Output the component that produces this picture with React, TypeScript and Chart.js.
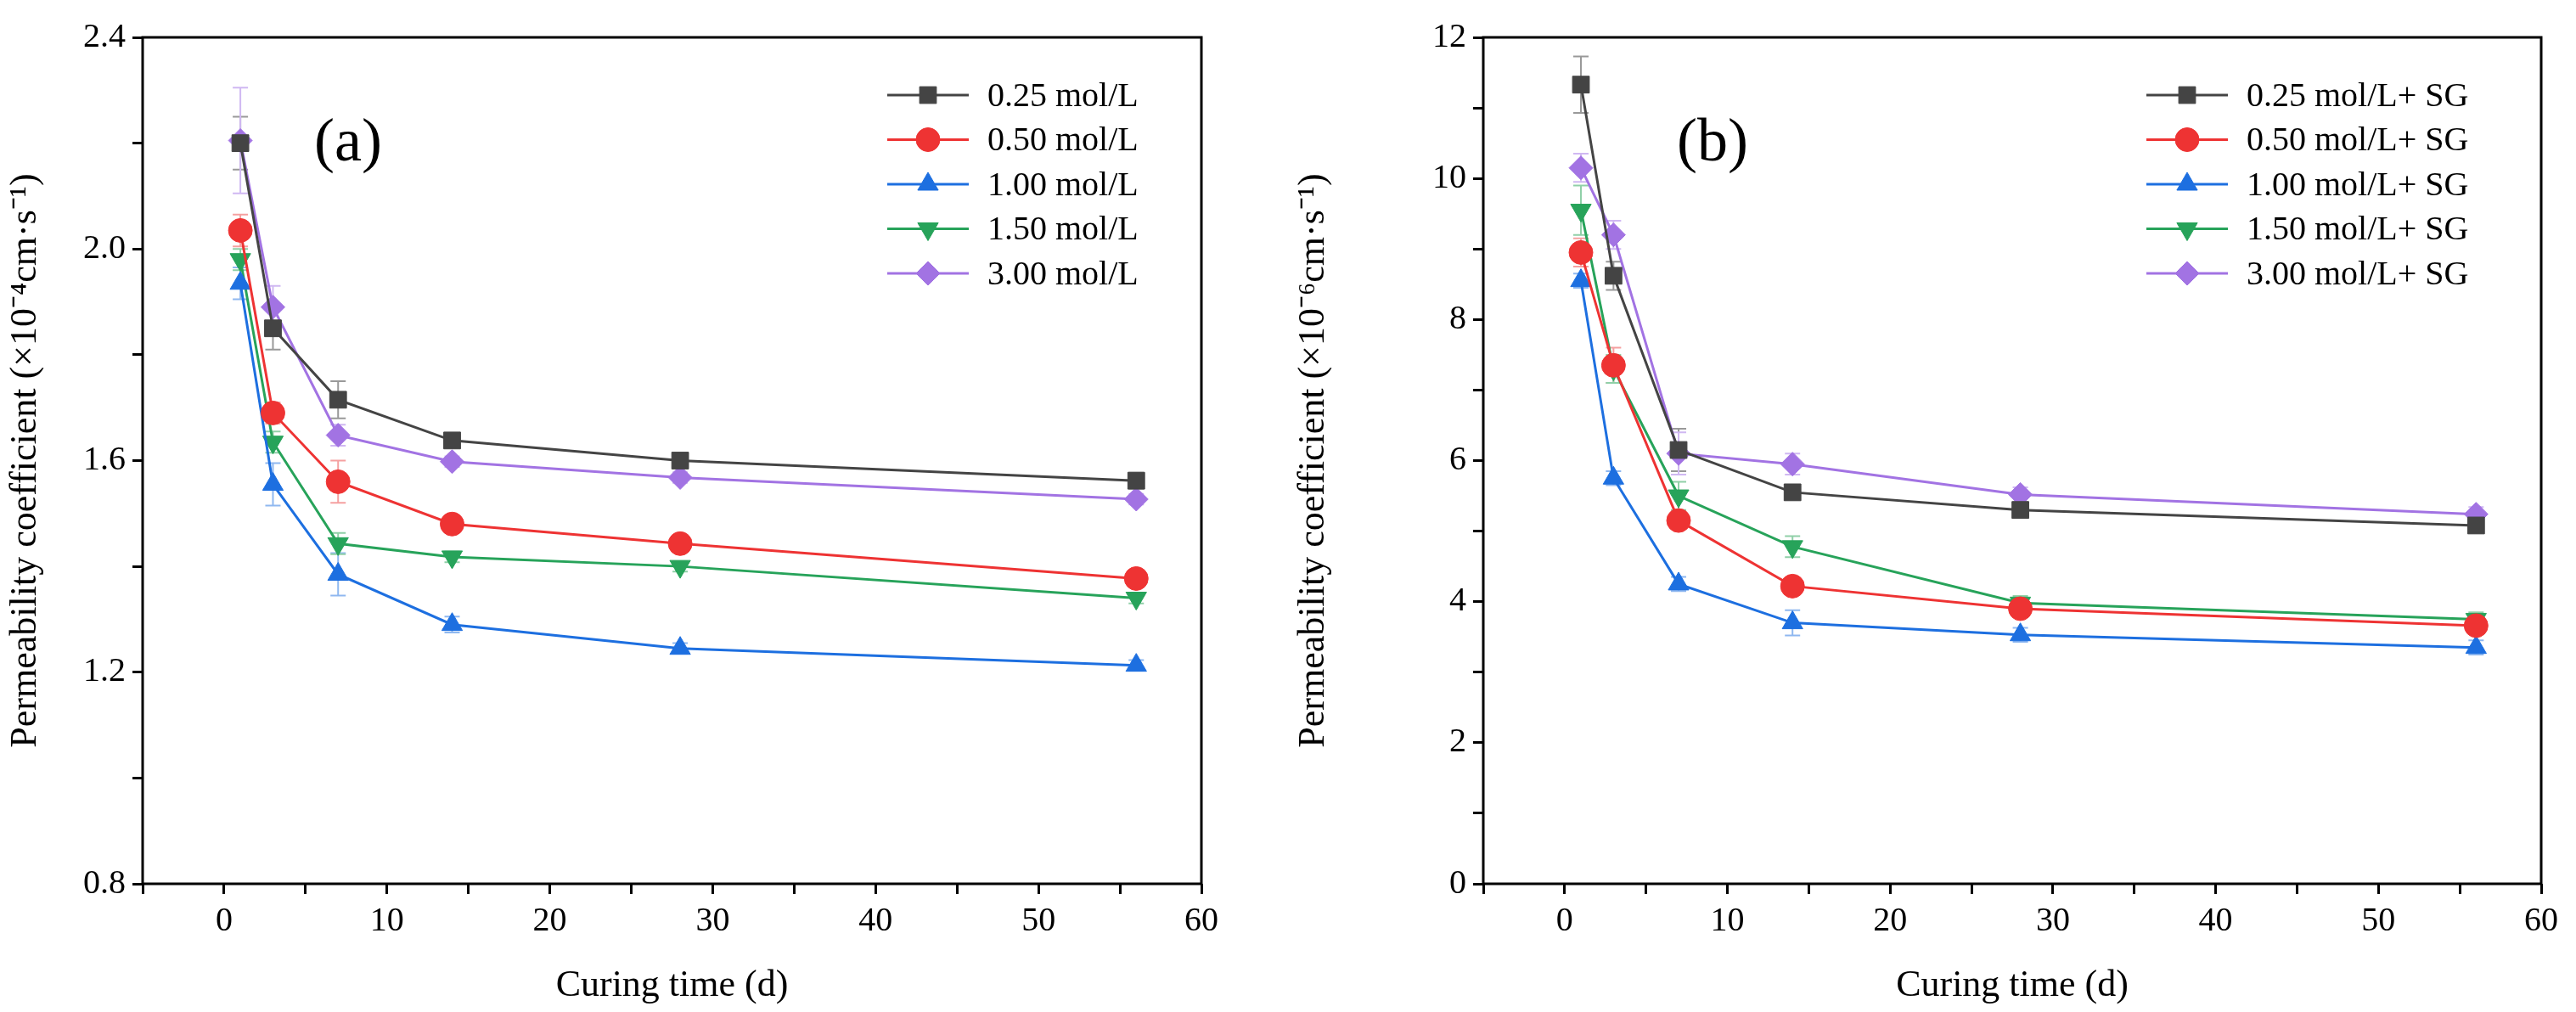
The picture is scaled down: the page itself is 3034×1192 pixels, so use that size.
import React, { useEffect, useRef } from "react";
import { Chart, registerables } from "chart.js";
import { drawPoint } from "chart.js/helpers";
Chart.register(...registerables);

const days = [1, 3, 7, 14, 28, 56];
const colors = ["#444444", "#ee3333", "#1d6fe0", "#27a35a", "#a273e3"];
const errColors = ["#999999", "#f5a0a0", "#8fb8f0", "#90d0a8", "#d0b8f2"];
const styles = ["rect", "circle", "triangle", "triangle", "rectRot"];
const rotations = [0, 0, 0, 180, 0];

const labelsA = ["0.25 mol/L", "0.50 mol/L", "1.00 mol/L", "1.50 mol/L", "3.00 mol/L"];
const valuesA = [
  [2.2, 1.85, 1.715, 1.638, 1.6, 1.562],
  [2.035, 1.69, 1.56, 1.48, 1.443, 1.377],
  [1.935, 1.555, 1.385, 1.29, 1.245, 1.213],
  [1.98, 1.635, 1.443, 1.418, 1.4, 1.34],
  [2.205, 1.89, 1.648, 1.598, 1.568, 1.527],
];
const errorsA = [
  [0.05, 0.04, 0.035, 0.01, 0.01, 0.015],
  [0.03, 0.02, 0.04, 0.01, 0.01, 0.01],
  [0.03, 0.04, 0.04, 0.015, 0.01, 0.01],
  [0.02, 0.02, 0.02, 0.01, 0.01, 0.01],
  [0.1, 0.04, 0.02, 0.01, 0.01, 0.01],
];

const labelsB = ["0.25 mol/L+ SG", "0.50 mol/L+ SG", "1.00 mol/L+ SG", "1.50 mol/L+ SG", "3.00 mol/L+ SG"];
const valuesB = [
  [11.33, 8.62, 6.15, 5.55, 5.3, 5.08],
  [8.95, 7.35, 5.15, 4.22, 3.9, 3.66],
  [8.55, 5.75, 4.25, 3.7, 3.53, 3.35],
  [9.55, 7.3, 5.5, 4.78, 3.98, 3.75],
  [10.15, 9.2, 6.1, 5.95, 5.52, 5.24],
];
const errorsB = [
  [0.4, 0.2, 0.3, 0.1, 0.1, 0.1],
  [0.2, 0.25, 0.1, 0.1, 0.1, 0.1],
  [0.1, 0.1, 0.1, 0.18, 0.1, 0.1],
  [0.35, 0.2, 0.2, 0.15, 0.1, 0.1],
  [0.2, 0.2, 0.3, 0.15, 0.1, 0.1],
];

const FONT = "'Liberation Serif', 'Times New Roman', serif";

function makeChart(canvas: HTMLCanvasElement, cfg: any) {
  const { labels, values, errors, yMin, yMax, yStep, yMajor, yDec, exp, panel, yAxisW, padRight, legendX, panelX } = cfg;
  const errPlugin = {
    id: "err",
    beforeDatasetsDraw(chart: any) {
      const ctx = chart.ctx;
      const xs = chart.scales.x, ys = chart.scales.y;
      ctx.save();
      ctx.lineWidth = 2;
      errors.forEach((es: number[], i: number) => {
        ctx.strokeStyle = errColors[i];
        es.forEach((e: number, j: number) => {
          const x = xs.getPixelForValue(days[j]);
          const y1 = ys.getPixelForValue(values[i][j] + e);
          const y2 = ys.getPixelForValue(values[i][j] - e);
          ctx.beginPath();
          ctx.moveTo(x, y1); ctx.lineTo(x, y2);
          ctx.moveTo(x - 9, y1); ctx.lineTo(x + 9, y1);
          ctx.moveTo(x - 9, y2); ctx.lineTo(x + 9, y2);
          ctx.stroke();
        });
      });
      ctx.restore();
    },
    afterDraw(chart: any) {
      const ctx = chart.ctx;
      const a = chart.chartArea;
      ctx.save();
      ctx.strokeStyle = "#000";
      ctx.lineWidth = 3;
      ctx.strokeRect(a.left, a.top, a.right - a.left, a.bottom - a.top);
      ctx.font = `40px ${FONT}`;
      ctx.textBaseline = "middle";
      labels.forEach((l: string, i: number) => {
        const y = 112 + i * 52.5;
        ctx.strokeStyle = colors[i];
        ctx.lineWidth = 3;
        ctx.beginPath();
        ctx.moveTo(legendX, y); ctx.lineTo(legendX + 96, y); ctx.stroke();
        ctx.fillStyle = colors[i];
        ctx.strokeStyle = colors[i];
        ctx.lineWidth = 1;
        drawPoint(ctx, { pointStyle: styles[i], rotation: rotations[i], radius: 14, borderWidth: 1 } as any, legendX + 48, y);
        ctx.fillStyle = "#000";
        ctx.fillText(l, legendX + 118, y + 2);
      });
      ctx.font = `72px ${FONT}`;
      ctx.textAlign = "center";
      ctx.fillStyle = "#000";
      ctx.fillText(panel, panelX, 170);
      ctx.restore();
    },
  };
  return new Chart(canvas, {
    type: "line",
    data: {
      datasets: labels.map((l: string, i: number) => ({
        label: l,
        data: days.map((d, j) => ({ x: d, y: values[i][j] })),
        borderColor: colors[i],
        backgroundColor: colors[i],
        borderWidth: 3,
        pointStyle: styles[i],
        rotation: rotations[i],
        pointRadius: 14,
        pointBorderWidth: 1,
        tension: 0,
      })),
    },
    options: {
      animation: false,
      responsive: false,
      layout: { padding: { top: 44, right: padRight, left: 0, bottom: 0 } },
      plugins: { legend: { display: false }, tooltip: { enabled: false } },
      scales: {
        x: {
          type: "linear", min: -5, max: 60,
          ticks: { stepSize: 5, color: "#000", font: { size: 40, family: FONT }, padding: 8,
            callback: (v: number) => (v % 10 === 0 ? String(v) : "") },
          grid: { drawOnChartArea: false, tickLength: 12, color: "#000", lineWidth: 3 },
          border: { display: false },
          title: { display: true, text: "Curing time (d)", color: "#000", font: { size: 44, family: FONT }, padding: { top: 22 } },
          afterFit: (s: any) => { s.height = 151; },
        },
        y: {
          min: yMin, max: yMax,
          ticks: { stepSize: yStep, color: "#000", font: { size: 40, family: FONT }, padding: 8,
            callback: (v: number) => {
              const r = Math.round(v / yMajor * 1000) / 1000;
              return Math.abs(r - Math.round(r)) < 1e-6 ? v.toFixed(yDec) : "";
            } },
          grid: { drawOnChartArea: false, tickLength: 12, color: "#000", lineWidth: 3 },
          border: { display: false },
          title: { display: true, text: `Permeability coefficient (×10${exp}cm·s⁻¹)`, color: "#000", font: { size: 44, family: FONT }, padding: { bottom: 14 } },
          afterFit: (s: any) => { s.width = yAxisW; },
        },
      },
    },
    plugins: [errPlugin],
  });
}

export default function App() {
  const a = useRef<HTMLCanvasElement>(null);
  const b = useRef<HTMLCanvasElement>(null);
  useEffect(() => {
    const c1 = makeChart(a.current!, {
      labels: labelsA, values: valuesA, errors: errorsA, yMin: 0.8, yMax: 2.4, yStep: 0.2, yMajor: 0.4, yDec: 1,
      exp: "⁻⁴", panel: "(a)", yAxisW: 168, padRight: 102, legendX: 1045, panelX: 410,
    });
    const c2 = makeChart(b.current!, {
      labels: labelsB, values: valuesB, errors: errorsB, yMin: 0, yMax: 12, yStep: 1, yMajor: 2, yDec: 0,
      exp: "⁻⁶", panel: "(b)", yAxisW: 230, padRight: 41, legendX: 1011, panelX: 500,
    });
    return () => { c1.destroy(); c2.destroy(); };
  }, []);
  return (
    <div style={{ position: "absolute", left: 0, top: 0, width: 3034, height: 1192, background: "#fff" }}>
      <canvas ref={a} width={1517} height={1192} style={{ position: "absolute", left: 0, top: 0 }} />
      <canvas ref={b} width={1517} height={1192} style={{ position: "absolute", left: 1517, top: 0 }} />
    </div>
  );
}
